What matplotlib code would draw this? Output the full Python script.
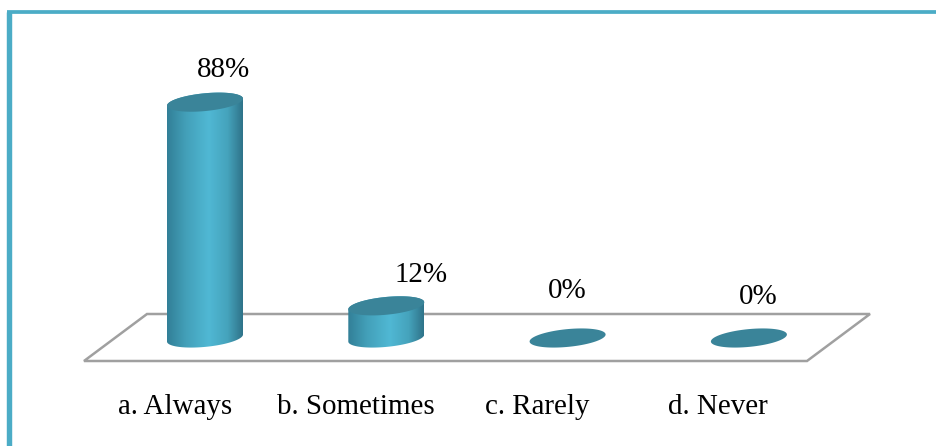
import numpy as np
import matplotlib
matplotlib.use("Agg")
import matplotlib.pyplot as plt
from matplotlib.colors import LinearSegmentedColormap
from matplotlib.patches import Polygon

categories = ["a. Always", "b. Sometimes", "c. Rarely", "d. Never"]
values = [88, 12, 0, 0]
value_labels = ["88%", "12%", "0%", "0%"]

plt.rcParams["font.family"] = ["Liberation Serif", "DejaVu Serif"]
W, H = 936, 446
fig = plt.figure(figsize=(W / 100, H / 100), dpi=100, facecolor="white")
ax = fig.add_axes([0, 0, 1, 1])
ax.set_xlim(0, W)
ax.set_ylim(H, 0)
ax.axis("off")

# layout of the pseudo-3D plot
X0, STEP = 205, 181.3
BASE_Y, PX_PER_PCT = 338, 2.68
A, B, K = 38, 8.9, 3.5
LABEL_DX = [-30, -30.5, -30.5, -31]
VALUE_DX = [19, 35, -0.5, 9.5]
VALUE_Y = [77, 282, 298, 304]
CAT_Y = 414
FS = 20.9

FRAME = "#4bacc6"
TOP = "#3a8499"
cmap = LinearSegmentedColormap.from_list(
    "cyl",
    [(0, "#327f97"), (0.25, "#43a0b9"), (0.55, "#50b8d4"), (0.8, "#45a3bc"), (1, "#2f7389")],
)

# frame
ax.plot([8.5, 8.5], [H, 11.5], color=FRAME, lw=3.9, solid_capstyle="butt", solid_joinstyle="miter")
ax.plot([6.5, W], [11.7, 11.7], color=FRAME, lw=2.7, solid_capstyle="butt")

# floor
ax.add_patch(Polygon([(84, 361), (147, 314), (870, 314), (807, 361)], closed=True,
                     fc="white", ec="#a0a0a0", lw=1.8, zorder=1))


def rim(cx, cy, t):
    return cx + A * np.cos(t), cy + B * np.sin(t) - K * np.cos(t)


for i, (cat, val, lab) in enumerate(zip(categories, values, value_labels)):
    cx = X0 + i * STEP
    top_y = BASE_Y - val * PX_PER_PCT
    t = np.linspace(0, 2 * np.pi, 200)
    if val > 0:
        tb = np.linspace(0, np.pi, 100)
        xb, yb = rim(cx, BASE_Y, tb)
        tt = np.linspace(np.pi, 2 * np.pi, 100)
        xt, yt = rim(cx, top_y, tt)
        body = Polygon(np.column_stack([np.r_[xb, xt], np.r_[yb, yt]]), closed=True,
                       fc="none", ec="none", zorder=2)
        ax.add_patch(body)
        grad = np.linspace(0, 1, 256).reshape(1, -1)
        im = ax.imshow(grad, cmap=cmap, aspect="auto", zorder=2,
                       extent=(cx - A, cx + A, BASE_Y + 12, top_y - 12))
        im.set_clip_path(body)
    x, y = rim(cx, top_y, t)
    ax.fill(x, y, color=TOP, lw=0, zorder=3)
    ax.text(cx + VALUE_DX[i], VALUE_Y[i], lab, ha="center", va="baseline", fontsize=FS, color="black", zorder=4)
    ax.text(cx + LABEL_DX[i], CAT_Y, cat, ha="center", va="baseline", fontsize=FS, color="black", zorder=4)

ax.set_xlim(0, W)
ax.set_ylim(H, 0)
fig.savefig("out.png", dpi=100, facecolor="white")
